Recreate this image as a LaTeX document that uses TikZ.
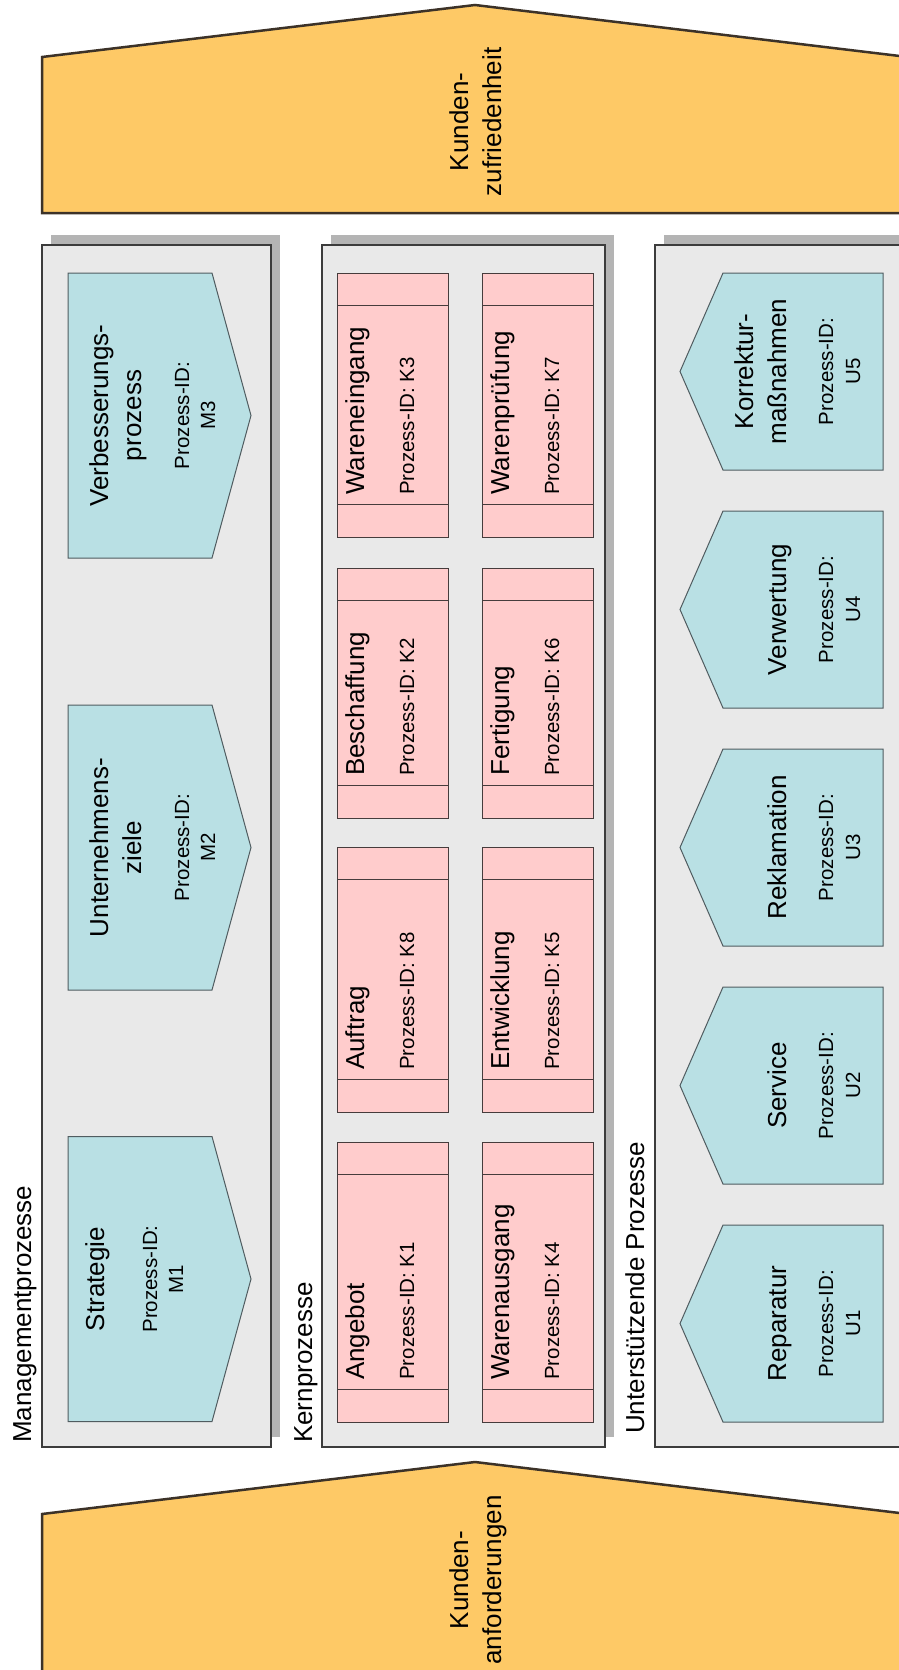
\documentclass[tikz,border=0pt]{standalone}
\usepackage{fontspec}
\setmainfont{Liberation Sans}
\definecolor{kundenorange}{RGB}{254,201,102}
\definecolor{hausrand}{RGB}{60,50,40}
\definecolor{bereichgrau}{RGB}{233,233,233}
\definecolor{bereichrand}{RGB}{60,60,60}
\definecolor{schattengrau}{RGB}{180,180,180}
\definecolor{prozteal}{RGB}{185,224,228}
\definecolor{prozrand}{RGB}{80,92,96}
\definecolor{kernrosa}{RGB}{255,204,204}
\definecolor{kernrand}{RGB}{70,60,60}

\begin{document}
\begin{tikzpicture}[x=1pt,y=-1pt,
  haus/.style={fill=kundenorange,draw=hausrand,line width=2.5pt},
  bereich/.style={fill=bereichgrau,draw=bereichrand,line width=2.5pt},
  schatten/.style={fill=schattengrau},
  mproz/.style={fill=prozteal,draw=prozrand,line width=1pt},
  kproz/.style={fill=kernrosa,draw=kernrand,line width=1pt},
  titel/.style={rotate=90,inner sep=0pt,font=\fontsize{26}{33}\selectfont},
  pid/.style={rotate=90,inner sep=0pt,font=\fontsize{20.5}{27}\selectfont}]
  \useasboundingbox (0,0) rectangle (899,1670);
  \clip (0,0) rectangle (899,1670);

  % Kunden oben / unten
  \draw[haus] (42,213) -- (42,57) -- (475,5) -- (908,57) -- (908,213) -- cycle;
  \node[titel,anchor=base] (zuf1) at (468,122) {Kunden-};
  \node[titel,anchor=base] (zuf2) at (501,122) {zufriedenheit};
  \draw[haus] (42,1700) -- (42,1514) -- (475,1462) -- (908,1514) -- (908,1700) -- cycle;
  \node[titel,anchor=base] (anf1) at (468,1580) {Kunden-};
  \node[titel,anchor=base] (anf2) at (501,1580) {anforderungen};

  % Bereiche mit Schatten
  \fill[schatten] (51,235) rectangle (280,1437);
  \draw[bereich] (42,245) rectangle (271,1447);
  \fill[schatten] (331,235) rectangle (614,1437);
  \draw[bereich] (322,245) rectangle (605,1447);
  \fill[schatten] (664,235) rectangle (940,1437);
  \draw[bereich] (655,245) rectangle (930,1447);
  \node[titel,anchor=base west] (mlabel) at (31,1443) {Managementprozesse};
  \node[titel,anchor=base west] (klabel) at (312,1443) {Kernprozesse};
  \node[titel,anchor=base west] (ulabel) at (644,1434) {Unterstützende Prozesse};

  % Managementprozesse
  \foreach \c/\nr/\xa in {1279/M1/157, 847.5/M2/189, 415.5/M3/189} {
    \draw[mproz] (68,\c-142.5) -- (212,\c-142.5) -- (251,\c) -- (212,\c+142.5) -- (68,\c+142.5) -- cycle;
    \node[pid,anchor=base] (\nr-id) at (\xa,\c) {Prozess-ID:};
    \node[pid,anchor=base] (\nr-nr) at (\xa+26,\c) {\nr};
  }
  \node[titel,anchor=base] (M1-name) at (104,1279) {Strategie};
  \node[titel,anchor=base] (M2-name) at (108,847.5) {Unternehmens-};
  \node[titel,anchor=base] (M2-name2) at (141,847.5) {ziele};
  \node[titel,anchor=base] (M3-name) at (108,415.5) {Verbesserungs-};
  \node[titel,anchor=base] (M3-name2) at (141,415.5) {prozess};

  % Kernprozesse
  \foreach \x/\ya/\yb/\name/\kid in {337/1142/1422/Angebot/K1, 482/1142/1422/Warenausgang/K4,
      337/847/1112/Auftrag/K8, 482/847/1112/Entwicklung/K5,
      337/568/818/Beschaffung/K2, 482/568/818/Fertigung/K6,
      337/273/537/Wareneingang/K3, 482/273/537/Warenprüfung/K7} {
    \draw[kproz] (\x,\ya) rectangle (\x+111,\yb);
    \draw[kproz] (\x,\ya+32) -- (\x+111,\ya+32) (\x,\yb-33) -- (\x+111,\yb-33);
    \node[titel,anchor=base west] (\kid-name) at (\x+27,\yb-42) {\name};
    \node[pid,anchor=base west] (\kid-id) at (\x+77,\yb-42) {Prozess-ID: \kid};
  }

  % Unterstuetzende Prozesse
  \foreach \c/\nr in {1323.5/U1, 1085.5/U2, 847.5/U3, 609.5/U4, 371.5/U5} {
    \draw[mproz] (883,\c-98.5) -- (723,\c-98.5) -- (680,\c) -- (723,\c+98.5) -- (883,\c+98.5) -- cycle;
    \node[pid,anchor=base] (\nr-id) at (833,\c) {Prozess-ID:};
    \node[pid,anchor=base] (\nr-nr) at (860,\c) {\nr};
  }
  \node[titel,anchor=base] (U1-name) at (786,1323.5) {Reparatur};
  \node[titel,anchor=base] (U2-name) at (786,1085.5) {Service};
  \node[titel,anchor=base] (U3-name) at (786,847.5) {Reklamation};
  \node[titel,anchor=base] (U4-name) at (786,609.5) {Verwertung};
  \node[titel,anchor=base] (U5-name) at (753,371.5) {Korrektur-};
  \node[titel,anchor=base] (U5-name2) at (786,371.5) {maßnahmen};
\end{tikzpicture}
\end{document}
